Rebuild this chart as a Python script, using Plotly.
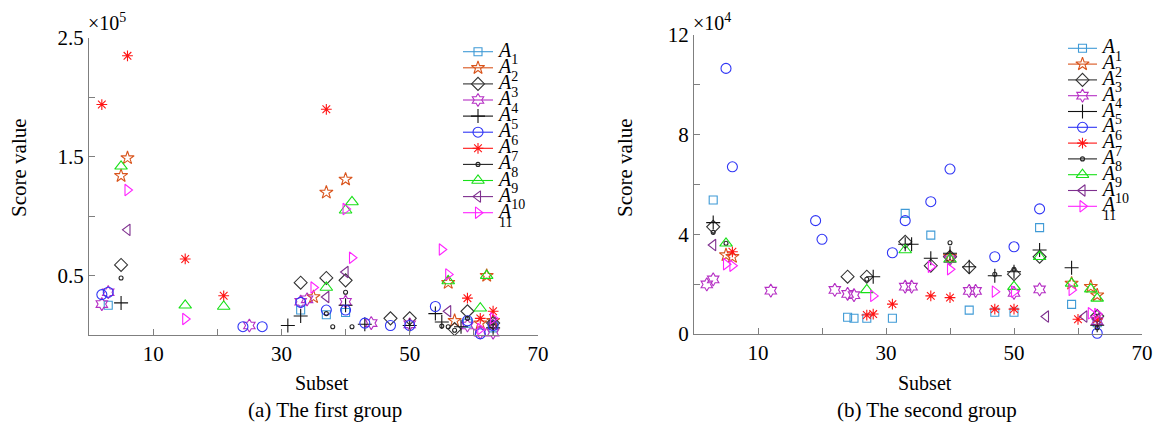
import plotly.graph_objects as go

# window is 1154 x 422; the page body margin is removed in the post script
WIN_W, WIN_H, BODY = 1154, 422, 0
W, H = WIN_W - BODY, WIN_H - BODY
FONT = "Liberation Serif"

# ---------------- data (first group, score in units of 1e5) ----------------
g1_x_A1 = [3, 33, 37, 40, 59, 63]
g1_y_A1 = [0.25, 0.21, 0.17, 0.19, 0.10, 0.06]
g1_x_A2 = [5, 6, 35, 37, 40, 56, 57, 61, 62, 63]
g1_y_A2 = [1.34, 1.49, 0.32, 1.20, 1.31, 0.44, 0.12, 0.10, 0.50, 0.12]
g1_x_A3 = [5, 33, 37, 40, 47, 50, 57, 59, 63]
g1_y_A3 = [0.59, 0.44, 0.48, 0.46, 0.14, 0.14, 0.05, 0.20, 0.10]
g1_x_A4 = [2, 3, 25, 33, 34, 40, 44, 50, 59, 61, 63]
g1_y_A4 = [0.26, 0.36, 0.08, 0.28, 0.30, 0.28, 0.10, 0.09, 0.08, 0.02, 0.02]
g1_x_A5 = [5, 31, 33, 40, 43, 50, 54, 55, 58, 63]
g1_y_A5 = [0.27, 0.08, 0.16, 0.25, 0.09, 0.08, 0.18, 0.11, 0.07, 0.06]
g1_x_A6 = [2, 3, 24, 27, 33, 37, 40, 43, 47, 50, 54, 59, 61, 63]
g1_y_A6 = [0.34, 0.36, 0.07, 0.07, 0.275, 0.21, 0.21, 0.10, 0.08, 0.08, 0.24, 0.12, 0.01, 0.08]
g1_x_A7 = [2, 6, 15, 21, 37, 59, 61, 63]
g1_y_A7 = [1.94, 2.35, 0.64, 0.33, 1.90, 0.31, 0.14, 0.20]
g1_x_A8 = [5, 37, 38, 40, 41, 55, 56, 57, 59, 63]
g1_y_A8 = [0.48, 0.18, 0.07, 0.36, 0.07, 0.075, 0.07, 0.04, 0.14, 0.10]
g1_x_A9 = [5, 15, 21, 37, 40, 41, 56, 61, 62]
g1_y_A9 = [1.42, 0.25, 0.24, 0.40, 1.05, 1.12, 0.455, 0.225, 0.50]
g1_x_A10 = [6, 37, 40, 56, 63]
g1_y_A10 = [0.885, 0.32, 0.53, 0.20, 0.10]
g1_x_A11 = [6, 15, 35, 40, 41, 55, 56, 61, 63]
g1_y_A11 = [1.22, 0.135, 0.40, 1.06, 0.65, 0.72, 0.51, 0.05, 0.14]

# ---------------- data (second group, score in units of 1e4) ----------------
g2_x_A1 = [3, 24, 25, 27, 31, 33, 37, 43, 47, 50, 54, 59, 63]
g2_y_A1 = [5.38, 0.67, 0.63, 0.63, 0.63, 4.84, 3.97, 0.96, 0.87, 0.87, 4.27, 1.19, 0.45]
g2_x_A2 = [5, 6, 40, 59, 62, 63]
g2_y_A2 = [3.17, 3.10, 3.10, 2.03, 1.90, 1.56]
g2_x_A3 = [3, 24, 27, 33, 37, 40, 43, 50, 54, 63]
g2_y_A3 = [4.30, 2.30, 2.30, 3.70, 2.74, 3.10, 2.68, 2.40, 3.10, 0.72]
g2_x_A4 = [2, 3, 12, 22, 24, 25, 33, 34, 40, 43, 44, 50, 54, 63]
g2_y_A4 = [1.99, 2.19, 1.74, 1.77, 1.61, 1.56, 1.90, 1.90, 3.00, 1.73, 1.73, 1.65, 1.79, 0.52]
g2_x_A5 = [3, 28, 33, 34, 37, 40, 43, 47, 50, 54, 59, 63]
g2_y_A5 = [4.47, 2.30, 3.60, 3.60, 3.04, 3.24, 2.70, 2.34, 2.50, 3.37, 2.66, 0.35]
g2_x_A6 = [5, 6, 19, 20, 31, 33, 37, 40, 47, 50, 54, 63]
g2_y_A6 = [10.66, 6.71, 4.55, 3.80, 3.26, 4.55, 5.31, 6.62, 3.10, 3.50, 5.02, 0.03]
g2_x_A7 = [6, 27, 28, 31, 37, 40, 47, 50, 60, 63]
g2_y_A7 = [3.30, 0.76, 0.80, 1.20, 1.53, 1.46, 1.00, 1.00, 0.59, 0.60]
g2_x_A8 = [3, 5, 27, 40, 47, 50, 63, 63]
g2_y_A8 = [4.08, 3.64, 2.20, 3.66, 2.40, 2.60, 0.85, 0.25]
g2_x_A9 = [5, 27, 33, 40, 50, 54, 59, 62, 63]
g2_y_A9 = [3.64, 1.77, 3.37, 3.00, 1.90, 3.10, 2.03, 1.80, 1.43]
g2_x_A10 = [3, 55, 61, 63]
g2_y_A10 = [3.57, 0.70, 0.70, 0.60]
g2_x_A11 = [5, 6, 28, 37, 40, 47, 50, 59, 62, 63]
g2_y_A11 = [2.80, 2.74, 1.53, 2.70, 2.60, 1.70, 1.70, 1.77, 0.83, 0.80]

# ---------------- tick labels ----------------
x_major = [10, 30, 50, 70]
x_minor = [20, 40, 60]
g1_y_major = [0.5, 1.5, 2.5]
g1_y_minor = [1.0, 2.0]
g2_y_major = [0, 4, 8, 12]
g2_y_minor = [2, 6, 10]

legend_labels = ["<i>A</i>", "<i>A</i><sup>1</sup>", "<i>A</i><sup>2</sup>",
                 "<i>A</i><sup>3</sup>", "<i>A</i><sup>4</sup>", "<i>A</i><sup>5</sup>",
                 "<i>A</i><sup>6</sup>", "<i>A</i><sup>7</sup>", "<i>A</i><sup>8</sup>",
                 "<i>A</i><sup>9</sup>", "<i>A</i><sup>10</sup>"]
legend_tail = "11"

# ---------------- styles ----------------
symbols = ["square-open", "star-open", "diamond-open", "hexagram-open", "cross-thin-open",
           "circle-open", "asterisk-open", "circle-open", "triangle-up-open",
           "triangle-left-open", "triangle-right-open"]
colors = ["#3f9ad6", "#d9541c", "#333333", "#b52fc4", "#111111", "#2f35f5",
          "#ff1414", "#222222", "#18e018", "#7e2f8e", "#ff22ff"]
sizes = [8, 10, 10, 10, 10, 10, 9, 4, 11, 10, 10]

g1_x = [g1_x_A1, g1_x_A2, g1_x_A3, g1_x_A4, g1_x_A5, g1_x_A6, g1_x_A7, g1_x_A8, g1_x_A9, g1_x_A10, g1_x_A11]
g1_y = [g1_y_A1, g1_y_A2, g1_y_A3, g1_y_A4, g1_y_A5, g1_y_A6, g1_y_A7, g1_y_A8, g1_y_A9, g1_y_A10, g1_y_A11]
g2_x = [g2_x_A1, g2_x_A2, g2_x_A3, g2_x_A4, g2_x_A5, g2_x_A6, g2_x_A7, g2_x_A8, g2_x_A9, g2_x_A10, g2_x_A11]
g2_y = [g2_y_A1, g2_y_A2, g2_y_A3, g2_y_A4, g2_y_A5, g2_y_A6, g2_y_A7, g2_y_A8, g2_y_A9, g2_y_A10, g2_y_A11]


def px(x):
    """window pixel -> paper fraction"""
    return (x - BODY) / W


def py(y):
    return 1 - (y - BODY) / H


fig = go.Figure()

for gx, gy, xa, ya in [(g1_x, g1_y, "x", "y"), (g2_x, g2_y, "x2", "y2")]:
    for i in range(len(symbols)):
        fig.add_trace(go.Scatter(
            x=gx[i], y=gy[i], mode="markers", xaxis=xa, yaxis=ya, showlegend=False,
            cliponaxis=False,
            marker=dict(symbol=symbols[i], size=sizes[i], color=colors[i],
                        line=dict(width=1.1, color=colors[i]))))

# ---------------- hand-made legends (one per panel) ----------------
n = len(legend_labels)
rows = list(range(n))
for xa, ya in [("x3", "y3"), ("x4", "y4")]:
    for i in rows:
        fig.add_trace(go.Scatter(x=[0, 1], y=[i, i], mode="lines", xaxis=xa, yaxis=ya,
                                 showlegend=False, hoverinfo="skip",
                                 line=dict(color=colors[i], width=1.1)))
        fig.add_trace(go.Scatter(x=[0.5], y=[i], mode="markers", xaxis=xa, yaxis=ya,
                                 showlegend=False, hoverinfo="skip", cliponaxis=False,
                                 marker=dict(symbol=symbols[i], size=sizes[i], color=colors[i],
                                             line=dict(width=1.1, color=colors[i]))))
    fig.add_trace(go.Scatter(x=[1.2] * n, y=rows, mode="text", text=legend_labels,
                             textposition="middle right", xaxis=xa, yaxis=ya,
                             showlegend=False, hoverinfo="skip", cliponaxis=False,
                             textfont=dict(family=FONT, size=20, color="black")))
    fig.add_trace(go.Scatter(x=[1.2], y=[n - 0.35], mode="text", text=[legend_tail],
                             textposition="middle right", xaxis=xa, yaxis=ya,
                             showlegend=False, hoverinfo="skip", cliponaxis=False,
                             textfont=dict(family=FONT, size=14, color="black")))

axis_common = dict(showgrid=False, zeroline=False, showline=True, linecolor="#7f7f7f",
                   linewidth=1, ticks="inside", ticklen=6, tickcolor="#7f7f7f",
                   automargin=False,
                   tickfont=dict(family=FONT, size=21, color="black"), mirror=False)
hidden = dict(visible=False, automargin=False, showgrid=False, zeroline=False)


def minor(vals):
    return dict(tickvals=vals, ticks="inside", ticklen=6, tickcolor="#7f7f7f", showgrid=False)


fig.update_layout(
    template="none",
    width=W, height=H, margin=dict(l=0, r=0, t=0, b=0, pad=0, autoexpand=False),
    paper_bgcolor="white", plot_bgcolor="white", showlegend=False,
    font=dict(family=FONT, color="black"),
    xaxis=dict(domain=[px(89), px(538)], range=[0, 70], anchor="y",
               tickvals=x_major, minor=minor(x_minor), **axis_common),
    yaxis=dict(domain=[py(335), py(38)], range=[0, 2.5], anchor="x",
               tickvals=g1_y_major, minor=minor(g1_y_minor), **axis_common),
    xaxis2=dict(domain=[px(694), px(1142)], range=[0, 70], anchor="y2",
                tickvals=x_major, minor=minor(x_minor), **axis_common),
    yaxis2=dict(domain=[py(334), py(35)], range=[0, 12], anchor="x2",
                tickvals=g2_y_major, minor=minor(g2_y_minor), **axis_common),
    # legend frames: 30 px per x unit, ~16 px per row
    xaxis3=dict(domain=[px(463), px(563)], range=[0, 100 / 30], anchor="y3", **hidden),
    yaxis3=dict(domain=[py(232), py(40)], range=[(232 - 51.7) / 16.1, (40 - 51.7) / 16.1],
                anchor="x3", **hidden),
    xaxis4=dict(domain=[px(1068), px(1154)], range=[0, 86 / 29], anchor="y4", **hidden),
    yaxis4=dict(domain=[py(232), py(36)], range=[(232 - 48.3) / 15.8, (36 - 48.3) / 15.8],
                anchor="x4", **hidden),
)

ann = []
for cx, lab in [(322.5, "(a) The first group"), (925, "(b) The second group")]:
    ann.append(dict(text="Subset", x=px(cx), y=py(383), xref="paper", yref="paper",
                    showarrow=False, xanchor="center", yanchor="middle",
                    font=dict(family=FONT, size=20, color="black")))
    ann.append(dict(text=lab, x=px(cx + 2), y=py(410), xref="paper", yref="paper",
                    showarrow=False, xanchor="center", yanchor="middle",
                    font=dict(family=FONT, size=21, color="black")))
for lx, mult in [(86, "\u00d710<sup>5</sup>"), (691, "\u00d710<sup>4</sup>")]:
    ann.append(dict(text=mult, x=px(lx), y=py(22), xref="paper", yref="paper",
                    showarrow=False, xanchor="left", yanchor="middle",
                    font=dict(family=FONT, size=20, color="black")))
for lx in [19, 625]:
    ann.append(dict(text="Score value", x=px(lx), y=py(168), xref="paper", yref="paper",
                    showarrow=False, xanchor="center", yanchor="middle", textangle=-90,
                    font=dict(family=FONT, size=21, color="black")))
fig.update_layout(annotations=ann)

# remove the default page margin so the 1154 x 422 figure fills the window exactly
fig.write_html("out.html",
               config={"displayModeBar": False},
               post_script="document.body.style.margin='0';"
                           "document.body.style.padding='0';"
                           "document.documentElement.style.overflow='hidden';"
                           "document.body.style.overflow='hidden';")
